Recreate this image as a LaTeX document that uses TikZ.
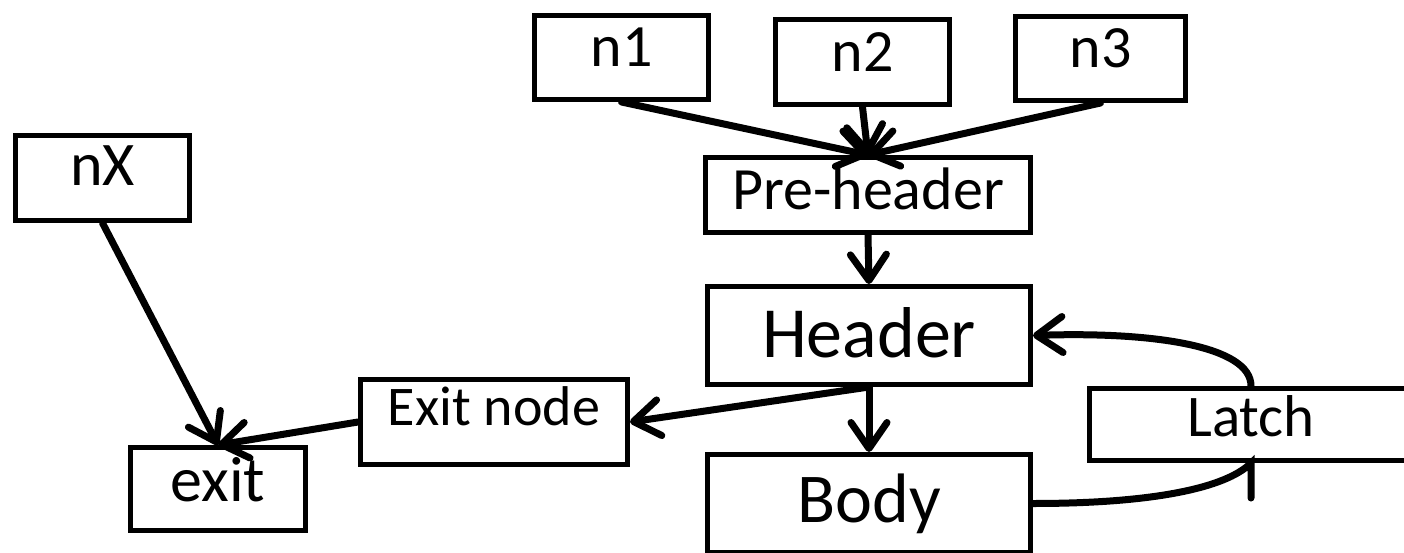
\documentclass[tikz,border=0pt]{standalone}
\usepackage{fontspec}
\setmainfont{Carlito}
\usepackage{tikz}
\usetikzlibrary{arrows.meta}
\tikzset{
  bloque/.style={draw, line width=2.5pt, rectangle, inner sep=0pt, align=center},
  flecha/.style={-{Straight Barb[length=13pt, width=18pt, round]}, line width=3.5pt, line cap=round},
}

\begin{document}
\begin{tikzpicture}[x=0.5pt, y=-0.5pt]
            \clip (0,0) rectangle (1404,552);
            % Predecesores
            \node[bloque, minimum width=87pt, minimum height=42pt, text depth=10pt, font=\fontsize{30}{32}\selectfont] (n1) at (621.5,57.5) {n1};
            \node[bloque, minimum width=87pt, minimum height=42.5pt, text depth=10pt, font=\fontsize{30}{32}\selectfont] (n2) at (862.5,62) {n2};
            \node[bloque, minimum width=85pt, minimum height=42pt, text depth=10pt, font=\fontsize{30}{32}\selectfont] (n3) at (1100.5,58.5) {n3};
            \node[bloque, minimum width=87pt, minimum height=42.5pt, text depth=12pt, font=\fontsize{31}{33}\selectfont] (nX) at (102.5,178) {nX};

            % Bucle
            \node[bloque, minimum width=162.5pt, minimum height=37.5pt, text depth=6pt, font=\fontsize{30}{32}\selectfont] (pre) at (868,195) {Pre-header};
            \node[bloque, minimum width=161.5pt, minimum height=49pt, text depth=3pt, font=\fontsize{36}{38}\selectfont] (hdr) at (869,335.5) {Header};
            \node[bloque, minimum width=161.5pt, minimum height=49pt, font=\fontsize{35}{37}\selectfont] (body) at (869,503.5) {Body};
            \node[bloque, minimum width=161.5pt, minimum height=36pt, text depth=8pt, font=\fontsize{29.5}{31}\selectfont] (latch) at (1251,424.5) {Latch};

            % Salidas
            \node[bloque, minimum width=133.5pt, minimum height=42.5pt, text depth=16pt, font=\fontsize{28}{30}\selectfont] (exitnode) at (494,422) {Exit node};
            \node[bloque, minimum width=87.5pt, minimum height=41.5pt, text depth=10pt, font=\fontsize{32}{34}\selectfont] (exit) at (218,489) {exit};

            \draw[flecha] (n1.south) -- (pre.north);
            \draw[flecha] (n2.south) -- (pre.north);
            \draw[flecha] (n3.south) -- (pre.north);
            \draw[flecha] (pre.south) -- (hdr.north);
            \draw[flecha] (hdr.south) -- (body.north);
            \draw[flecha] (hdr.south) -- (exitnode.east);
            \draw[flecha] (exitnode.west) -- (exit.north);
            \draw[flecha] (nX.south) -- (exit.north);

            % Arco de retorno
            \draw[flecha] (latch.north) .. controls +(0,-40) and +(120,-4) .. (hdr.east);
            \draw[line width=3.5pt, line cap=round] (body.east) .. controls +(120,0) and +(-25,25) .. (latch.south) -- ++(0,35);
        \end{tikzpicture}
\end{document}
